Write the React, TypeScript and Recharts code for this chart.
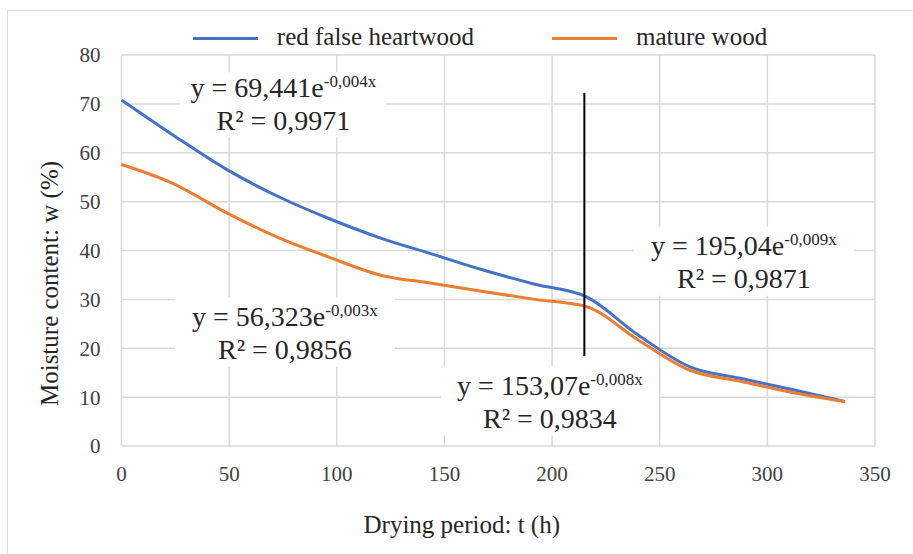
import React from "react";
import { CartesianGrid, Legend, Line, LineChart, ReferenceDot, ReferenceLine, XAxis, YAxis } from "recharts";

// drying time (h) and moisture content (%)
const hours = [0, 24, 48, 72, 96, 120, 144, 168, 192, 216, 240, 264, 288, 312, 336];
const heartwood = [70.8, 63.6, 56.8, 51.2, 46.6, 42.6, 39.3, 36.0, 33.1, 30.5, 22.7, 16.2, 13.8, 11.5, 9.1];
const mature = [57.6, 53.7, 47.9, 42.8, 38.7, 35.0, 33.3, 31.6, 30.0, 28.5, 21.7, 15.5, 13.2, 10.9, 9.1];

const xTicks = [0, 50, 100, 150, 200, 250, 300, 350];
const yTicks = [0, 10, 20, 30, 40, 50, 60, 70, 80];

const seriesNames = ["red false heartwood", "mature wood"];

// exponential fits shown on the chart
const fits = [
    { coef: "69,441", exp: "-0,004x", r2: "0,9971" },
    { coef: "56,323", exp: "-0,003x", r2: "0,9856" },
    { coef: "195,04", exp: "-0,009x", r2: "0,9871" },
    { coef: "153,07", exp: "-0,008x", r2: "0,9834" },
];
// where each fit label sits (data coords) and its white box half width / top
const fitSpots = [
    { t: 75.2, w: 69.9, half: 103, top: 32 },
    { t: 75.9, w: 23.0, half: 110, top: 36 },
    { t: 289.1, w: 37.5, half: 110, top: 36 },
    { t: 199.0, w: 8.9, half: 109, top: 36 },
];

// split marker between the two drying phases
const splitT = 215;
const splitRange = [18.4, 72.2];

const data = hours.map((t, i) => ({ t, heartwood: heartwood[i], mature: mature[i] }));

const FONT = '"Liberation Serif", Tinos, "Times New Roman", Times, "DejaVu Serif", serif';

const EqLabel = ({ cx, cy, fit, half, top }: any) => (
    <g>
        <rect x={cx - half} y={cy - top} width={half * 2} height={top + 33} fill="#fff" />
        <text x={cx} y={cy - 7.5} textAnchor="middle" fontSize={28} fontFamily={FONT} fill="#262626">
            y = {fit.coef}e<tspan fontSize={17} dy={-10}>{fit.exp}</tspan>
        </text>
        <text x={cx} y={cy + 25.5} textAnchor="middle" fontSize={28} fontFamily={FONT} fill="#262626">
            R² = {fit.r2}
        </text>
    </g>
);

const LegendRow = ({ payload }: any) => {
    const items = [...(payload || [])].sort((a: any, b: any) => seriesNames.indexOf(a.value) - seriesNames.indexOf(b.value));
    return (
        <div style={{ display: "flex", justifyContent: "center", boxSizing: "border-box", paddingLeft: 47, width: 913, height: 30, alignItems: "center", fontFamily: FONT, fontSize: 25, lineHeight: "30px", color: "#262626" }}>
            {items.map((p: any, i: number) => (
                <div key={i} style={{ display: "flex", alignItems: "center", marginLeft: i ? 78 : 0 }}>
                    <span style={{ width: 65, height: 3, background: p.color, marginRight: 19, marginTop: 2 }} />
                    <span>{p.value}</span>
                </div>
            ))}
        </div>
    );
};

const App = () => {
    return (
        <div style={{ position: "absolute", left: 0, top: 0, width: 913, height: 554, overflow: "hidden", background: "#fff" }}>
            <div style={{ position: "absolute", left: 7, top: 10, width: 1000, height: 700, border: "1px solid #d9d9d9" }} />
            <div style={{ position: "absolute", left: 0, top: 0 }}>
                <LineChart width={913} height={554} data={data} margin={{ top: 55, right: 38, bottom: 0, left: 0 }}>
                    <CartesianGrid stroke="#d9d9d9" strokeWidth={1.5} />
                    <XAxis
                        type="number"
                        dataKey="t"
                        domain={[0, 350]}
                        ticks={xTicks}
                        height={108}
                        tickSize={0}
                        tickMargin={20}
                        axisLine={false}
                        tickLine={false}
                        tick={{ fontSize: 21, fill: "#404040", fontFamily: FONT }}
                        label={{
                            content: ({ viewBox }: any) => (
                                <text x={viewBox.x + viewBox.width / 2 - 36.5} y={533} textAnchor="middle" fontSize={25} fontFamily={FONT} fill="#262626">
                                    Drying period: t (h)
                                </text>
                            ),
                        }}
                    />
                    <YAxis
                        type="number"
                        domain={[0, 80]}
                        ticks={yTicks}
                        width={121.5}
                        tickSize={0}
                        tickMargin={21}
                        axisLine={false}
                        tickLine={false}
                        tick={{ fontSize: 21, fill: "#404040", fontFamily: FONT }}
                        label={{
                            content: ({ viewBox }: any) => (
                                <text transform={`translate(58, ${viewBox.y + viewBox.height / 2 + 33}) rotate(-90)`} textAnchor="middle" fontSize={25} fontFamily={FONT} fill="#262626">
                                    Moisture content: w (%)
                                </text>
                            ),
                        }}
                    />
                    <Legend verticalAlign="middle" align="center" layout="horizontal" wrapperStyle={{ top: 22, left: 0 }} content={<LegendRow />} />
                    <Line type="monotone" dataKey="heartwood" name={seriesNames[0]} stroke="#4472C4" strokeWidth={3} dot={false} isAnimationActive={false} />
                    <Line type="monotone" dataKey="mature" name={seriesNames[1]} stroke="#ED7D31" strokeWidth={3} dot={false} isAnimationActive={false} />
                    <ReferenceLine segment={[{ x: splitT, y: splitRange[0] }, { x: splitT, y: splitRange[1] }]} stroke="#000" strokeWidth={2} />
                    {fits.map((f, i) => (
                        <ReferenceDot key={i} x={fitSpots[i].t} y={fitSpots[i].w} r={0} ifOverflow="visible" shape={(p: any) => <EqLabel cx={p.cx} cy={p.cy} fit={f} half={fitSpots[i].half} top={fitSpots[i].top} />} />
                    ))}
                </LineChart>
            </div>
        </div>
    );
};

export default App;
